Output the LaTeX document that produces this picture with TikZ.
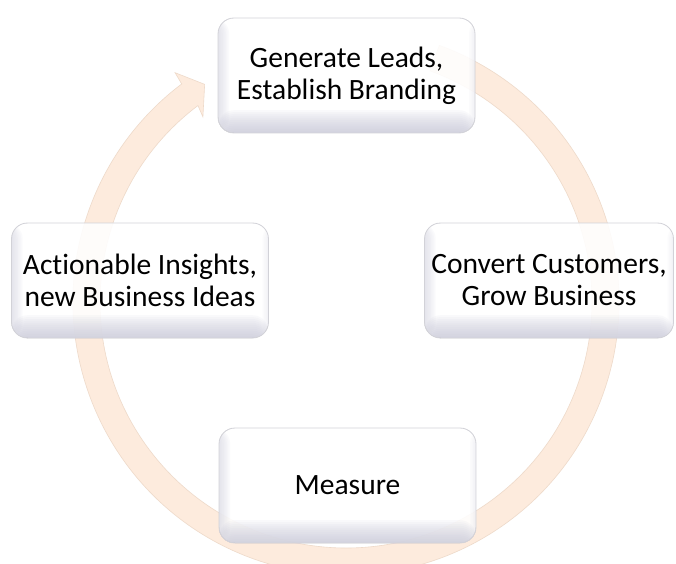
\documentclass[tikz,border=0pt]{standalone}
\usepackage{fontspec}
\setmainfont[RawFeature=-liga]{Carlito}
\definecolor{band}{RGB}{253,235,221}
\definecolor{bandedge}{RGB}{238,218,202}
\definecolor{boxedge}{RGB}{210,210,216}
\definecolor{boxshade}{RGB}{196,196,214}
\begin{document}
\begin{tikzpicture}[x=1pt,y=1pt,
  stage/.style={rounded corners=16pt, minimum width=257pt, minimum height=115pt,
    draw=boxedge, line width=0.8pt, fill=white, fill opacity=0.88, text opacity=1,
    align=center, font=\fontsize{29.5}{32}\selectfont, inner sep=0pt,
    path picture={
      \foreach \k in {1,...,12}{
        \fill[boxshade, opacity=0.085]
          (path picture bounding box.south west) rectangle ([yshift=\k*1.9pt]path picture bounding box.south east);
      }
      \foreach \k in {1,...,7}{
        \fill[boxshade, opacity=0.07]
          (path picture bounding box.south west) rectangle ([xshift=\k*1.6pt]path picture bounding box.north west);
      }
      \foreach \k in {1,...,4}{
        \fill[boxshade, opacity=0.05]
          (path picture bounding box.south east) rectangle ([xshift=-\k*1.5pt]path picture bounding box.north east);
      }
    }},
  ringband/.style={fill=band, draw=bandedge, line width=0.6pt, line join=miter}
]
\useasboundingbox (0,0) rectangle (676,563);
\fill[white] (0,0) rectangle (676,563);
\coordinate (c) at (346,261);
\begin{scope}
\clip (0,0) rectangle (676,563);
\begin{scope}[shift={(c)}]
\path[ringband] (70:273) arc[start angle=70, end angle=-233, radius=273]
  -- (126.7:286) -- (123:259.5) -- (127.7:234) -- (-233:246)
  arc[start angle=-233, end angle=70, radius=246] -- cycle;
\end{scope}
\end{scope}
\node[stage] (lead) at (346.5,487.5) {Generate Leads,\\Establish Branding};
\node[stage] (insight) at (140,282.5) {Actionable Insights,\\new Business Ideas};
\node[stage, minimum width=249pt] (convert) at (549,282.5) {Convert Customers,\\Grow Business};
\node[stage] (measure) at (347.5,77.5) {Measure};
\end{tikzpicture}
\end{document}
